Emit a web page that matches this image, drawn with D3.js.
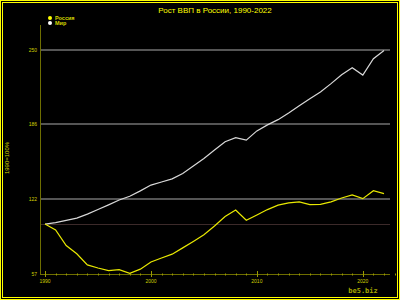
<!DOCTYPE html>
<html>
<head>
<meta charset="utf-8">
<script src="https://cdn.jsdelivr.net/npm/d3@7"></script>
<style>
body { margin: 0; background: #000; }
svg { display: block; }
</style>
</head>
<body>
<div id="chart"></div>
<script>
var years = d3.range(1990, 2023);
var russia = [100, 95.0, 81.5, 74.4, 64.8, 62.2, 59.9, 60.7, 57.5, 61.2, 67.4, 70.8, 74.1, 79.5, 85.1, 90.8, 98.4, 106.6, 112.1, 103.3, 107.9, 112.5, 116.3, 118.3, 119.2, 116.8, 117.0, 119.2, 122.5, 125.2, 121.9, 128.8, 126.3];
var world = [100, 101.3, 103.2, 105.1, 108.6, 112.6, 116.6, 120.8, 124.0, 128.6, 133.6, 136.3, 139.0, 143.6, 150.0, 156.5, 163.8, 171.0, 174.4, 172.3, 180.3, 185.5, 190.0, 195.7, 202.0, 208.0, 213.8, 221.0, 228.7, 234.8, 228.4, 242.5, 249.5];
var yTicks = [57, 122, 186, 250];
var xTicks = [1990, 2000, 2010, 2020];
var seriesNames = ["Россия", "Мир"];
var seriesColors = ["#e8e800", "#d8d8d8"];

var W = 400, H = 300;
var svg = d3.select("#chart").append("svg").attr("width", W).attr("height", H);
svg.append("rect").attr("width", W).attr("height", H).attr("fill", "#000");

// double yellow frame
svg.append("rect").attr("x", 0.5).attr("y", 0.5).attr("width", W - 1).attr("height", H - 1)
	.attr("fill", "none").attr("stroke", "#ffff00");
svg.append("rect").attr("x", 2.5).attr("y", 2.5).attr("width", W - 5).attr("height", H - 5)
	.attr("fill", "none").attr("stroke", "#ffff00");

var x = d3.scaleLinear().domain([1990, 2022]).range([45, 384]);
var y = d3.scaleLinear().domain([57, 250]).range([274, 50]);
var olive = "#6e6e00";

// grid
svg.selectAll("line.grid").data(yTicks.slice(1)).enter().append("line")
	.attr("class", "grid")
	.attr("x1", 40).attr("x2", 390)
	.attr("y1", function (d) { return Math.round(y(d)); })
	.attr("y2", function (d) { return Math.round(y(d)); })
	.attr("stroke", "#555555").attr("stroke-width", 2);

// 100% base line
svg.append("line").attr("x1", 40).attr("x2", 390)
	.attr("y1", Math.round(y(100)) + 0.5).attr("y2", Math.round(y(100)) + 0.5)
	.attr("stroke", "#3c2a2a").attr("stroke-width", 1);

// y axis
svg.append("line").attr("x1", 40.5).attr("x2", 40.5).attr("y1", 25).attr("y2", 275)
	.attr("stroke", olive).attr("stroke-width", 1);
svg.selectAll("text.ytick").data(yTicks).enter().append("text")
	.attr("class", "ytick")
	.attr("x", 37).attr("y", function (d) { return y(d) + 2; })
	.attr("text-anchor", "end")
	.attr("font-family", "Arial, Liberation Sans, sans-serif")
	.attr("font-size", 5).attr("fill", "#d0d000")
	.text(function (d) { return d; });

// x axis
svg.append("line").attr("x1", 40).attr("x2", 390).attr("y1", 274.5).attr("y2", 274.5)
	.attr("stroke", olive).attr("stroke-width", 1);
svg.selectAll("line.minor").data(d3.range(1990, 2024)).enter().append("line")
	.attr("class", "minor")
	.attr("x1", function (d) { return Math.round(x(d)) + 0.5; })
	.attr("x2", function (d) { return Math.round(x(d)) + 0.5; })
	.attr("y1", 273.5).attr("y2", 275.5)
	.attr("stroke", "#9a9a00");
svg.selectAll("line.major").data(xTicks).enter().append("line")
	.attr("class", "major")
	.attr("x1", function (d) { return Math.round(x(d)) + 0.5; })
	.attr("x2", function (d) { return Math.round(x(d)) + 0.5; })
	.attr("y1", 271).attr("y2", 277)
	.attr("stroke", "#9a9a00");
svg.selectAll("text.xtick").data(xTicks).enter().append("text")
	.attr("class", "xtick")
	.attr("x", function (d) { return x(d); }).attr("y", 283)
	.attr("text-anchor", "middle")
	.attr("font-family", "Arial, Liberation Sans, sans-serif")
	.attr("font-size", 5).attr("fill", "#d0d000")
	.text(function (d) { return d; });

// lines
var line = d3.line()
	.x(function (d, i) { return x(years[i]); })
	.y(function (d) { return y(d); });
[world, russia].forEach(function (s, k) {
	svg.append("path").datum(s)
		.attr("d", line)
		.attr("fill", "none")
		.attr("stroke", k == 0 ? seriesColors[1] : seriesColors[0])
		.attr("stroke-width", 1.2);
});

// title
svg.append("text").attr("x", 215).attr("y", 13).attr("text-anchor", "middle")
	.attr("font-family", "Arial, Liberation Sans, sans-serif")
	.attr("font-size", 8).attr("fill", "#ffff00")
	.text("Рост ВВП в России, 1990-2022");

// legend
seriesNames.forEach(function (n, i) {
	svg.append("circle").attr("cx", 50).attr("cy", 18 + i * 5).attr("r", 2)
		.attr("fill", i == 0 ? "#ffff00" : "#ffffff");
	svg.append("text").attr("x", 55).attr("y", 20 + i * 5)
		.attr("font-family", "Arial, Liberation Sans, sans-serif")
		.attr("font-size", 5.5).attr("font-weight", "bold").attr("fill", "#d8d800")
		.text(n);
});

// y label
svg.append("text")
	.attr("transform", "translate(9,158) rotate(-90)")
	.attr("text-anchor", "middle")
	.attr("font-family", "Arial, Liberation Sans, sans-serif")
	.attr("font-size", 6).attr("fill", "#d8d800")
	.text("1990=100%");

// watermark
svg.append("text").attr("x", 363).attr("y", 293).attr("text-anchor", "middle")
	.attr("font-family", "DejaVu Sans Mono, monospace")
	.attr("font-size", 7).attr("font-weight", "bold").attr("fill", "#a8a800")
	.text("be5.biz");
</script>
</body>
</html>
